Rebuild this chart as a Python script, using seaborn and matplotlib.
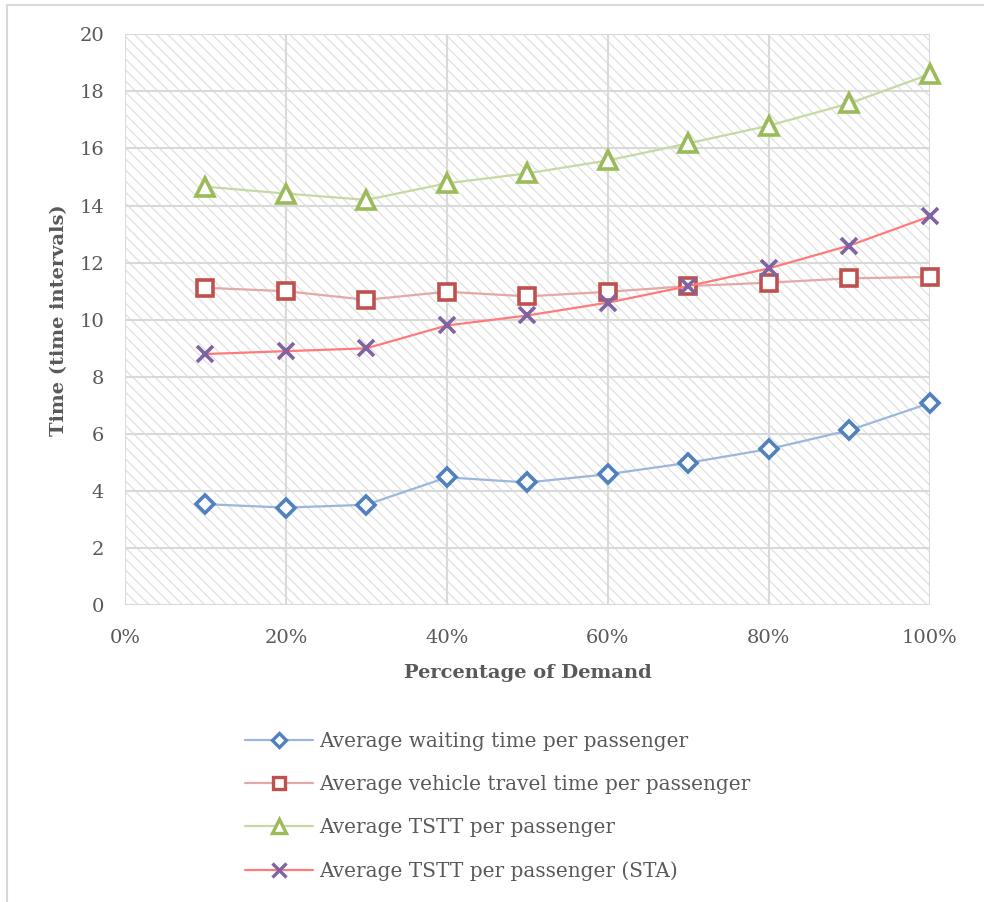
import numpy as np
import pandas as pd
import matplotlib
matplotlib.use("Agg")
import matplotlib.pyplot as plt
from matplotlib.lines import Line2D
from matplotlib.ticker import PercentFormatter
import seaborn as sns

# Demand levels (fraction of full demand)
demand = [0.1, 0.2, 0.3, 0.4, 0.5, 0.6, 0.7, 0.8, 0.9, 1.0]

# Average times (time intervals)
waiting = [3.54, 3.42, 3.52, 4.48, 4.30, 4.59, 4.99, 5.47, 6.13, 7.08]
vehicle_travel = [11.12, 11.00, 10.70, 10.98, 10.82, 10.98, 11.18, 11.30, 11.45, 11.50]
tstt = [14.66, 14.42, 14.20, 14.78, 15.13, 15.58, 16.18, 16.80, 17.58, 18.60]
tstt_sta = [8.80, 8.90, 9.00, 9.80, 10.15, 10.60, 11.18, 11.80, 12.60, 13.62]

labels = [
    "Average waiting time per passenger",
    "Average vehicle travel time per passenger",
    "Average TSTT per passenger",
    "Average TSTT per passenger (STA)",
]

sns.set_theme(style="white")
plt.rcParams["font.family"] = ["DejaVu Serif"]
plt.rcParams["hatch.color"] = "#e0e0e0"
plt.rcParams["hatch.linewidth"] = 0.9

fig = plt.figure(figsize=(9.84, 9.02), dpi=100)
ax = fig.add_axes([0.127, 0.329, 0.818, 0.633])

# hatched plot background
ax.patch.set_facecolor("white")
ax.patch.set_hatch("\\\\\\")
ax.patch.set_edgecolor("#e0e0e0")
ax.patch.set_linewidth(0)

styles = [
    dict(line="#9bb7dc", edge="#4f81bd", marker="D", ms=9),
    dict(line="#e3a9a7", edge="#c0504d", marker="s", ms=11),
    dict(line="#c6d9a4", edge="#9bbb59", marker="^", ms=13),
    dict(line="#ff7b7b", edge="#8064a2", marker="x", ms=12),
]
series = [waiting, vehicle_travel, tstt, tstt_sta]

handles = []
for vals, lab, st in zip(series, labels, styles):
    df = pd.DataFrame({"demand": demand, "time": vals})
    filled = st["marker"] != "x"
    sns.lineplot(
        data=df, x="demand", y="time", ax=ax,
        color=st["line"], linewidth=1.6,
        marker=st["marker"], markersize=st["ms"],
        markerfacecolor="white" if filled else st["edge"],
        markeredgecolor=st["edge"], markeredgewidth=2.6,
        zorder=3, clip_on=False, legend=False,
    )
    handles.append(Line2D([0], [0], color=st["line"], linewidth=1.6,
                          marker=st["marker"], markersize=st["ms"] * 0.8,
                          markerfacecolor="white" if filled else st["edge"],
                          markeredgecolor=st["edge"], markeredgewidth=2.4,
                          label=lab))

ax.set_xlim(0, 1.0)
ax.set_ylim(0, 20)
ax.set_xticks(np.arange(0, 1.01, 0.2))
ax.set_yticks(np.arange(0, 21, 2))
ax.xaxis.set_major_formatter(PercentFormatter(1.0, decimals=0))
ax.grid(True, color="#d9d9d9", linewidth=1.5, zorder=1)
ax.set_axisbelow(True)
for s in ax.spines.values():
    s.set_visible(False)

ax.tick_params(axis="both", length=0, labelsize=14, labelcolor="#595959")
ax.tick_params(axis="y", pad=15)
ax.tick_params(axis="x", pad=17)

ax.set_xlabel("Percentage of Demand", fontsize=14, fontweight="bold",
              color="#595959", labelpad=12)
ax.set_ylabel("Time (time intervals)", fontsize=14, fontweight="bold",
              color="#595959", labelpad=8)

fig.legend(handles=handles, loc="upper left", bbox_to_anchor=(0.249, 0.188),
           frameon=False, fontsize=14.4, labelcolor="#595959",
           handlelength=3.4, handletextpad=0.3, labelspacing=1.2,
           borderaxespad=0, borderpad=0)

# chart frame edges
fig.add_artist(Line2D([0.007, 0.007], [0.0, 0.994], transform=fig.transFigure,
                      color="#d9d9d9", linewidth=1.5))
fig.add_artist(Line2D([0.007, 1.0], [0.994, 0.994], transform=fig.transFigure,
                      color="#d9d9d9", linewidth=1.5))

fig.savefig("out.png", dpi=100)
